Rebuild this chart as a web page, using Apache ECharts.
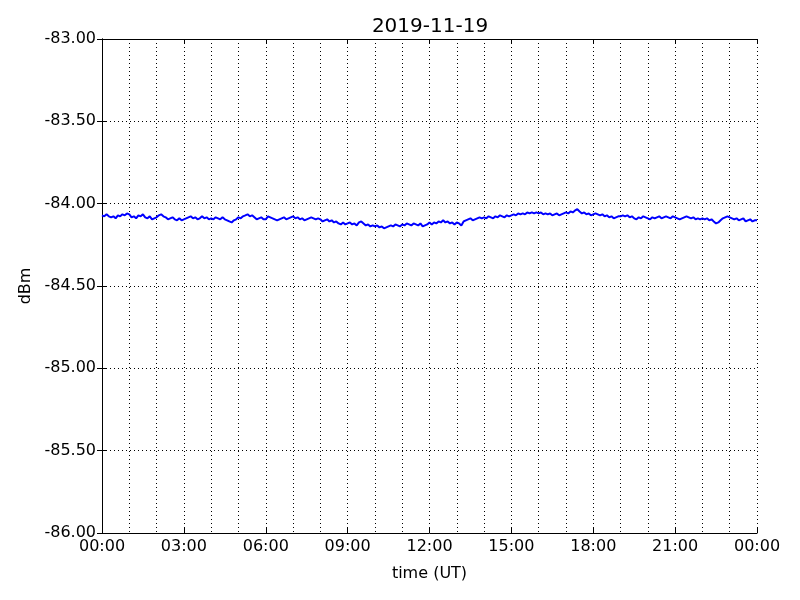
<!DOCTYPE html>
<html>
<head>
<meta charset="utf-8">
<script src="https://cdn.jsdelivr.net/npm/echarts@6/dist/echarts.min.js"></script>
<style>html,body{margin:0;padding:0;background:#fff}#c{width:800px;height:600px}</style>
</head>
<body>
<div id="c"></div>
<script>
// Signal level (dBm), one sample every 5 minutes from 00:00 to 24:00 UT
const stepMinutes = 5;
const values = [
  -84.071,-84.077,-84.065,-84.077,-84.083,-84.077,-84.089,-84.071,-84.077,-84.065,-84.071,-84.059,
  -84.065,-84.083,-84.077,-84.089,-84.071,-84.077,-84.065,-84.083,-84.089,-84.077,-84.095,-84.089,
  -84.083,-84.071,-84.065,-84.077,-84.083,-84.095,-84.089,-84.083,-84.095,-84.101,-84.089,-84.101,
  -84.095,-84.089,-84.083,-84.077,-84.089,-84.083,-84.095,-84.089,-84.077,-84.089,-84.083,-84.095,
  -84.089,-84.095,-84.083,-84.089,-84.095,-84.083,-84.095,-84.101,-84.108,-84.114,-84.101,-84.095,
  -84.083,-84.089,-84.077,-84.071,-84.065,-84.077,-84.071,-84.083,-84.095,-84.089,-84.083,-84.095,
  -84.095,-84.077,-84.083,-84.089,-84.095,-84.101,-84.095,-84.089,-84.083,-84.095,-84.089,-84.083,
  -84.077,-84.089,-84.083,-84.095,-84.089,-84.101,-84.095,-84.089,-84.083,-84.089,-84.095,-84.089,
  -84.095,-84.108,-84.101,-84.095,-84.108,-84.101,-84.114,-84.108,-84.120,-84.126,-84.114,-84.126,
  -84.120,-84.114,-84.126,-84.120,-84.132,-84.114,-84.108,-84.120,-84.132,-84.126,-84.138,-84.132,
  -84.138,-84.132,-84.144,-84.138,-84.150,-84.144,-84.138,-84.132,-84.138,-84.126,-84.132,-84.138,
  -84.126,-84.132,-84.120,-84.126,-84.132,-84.120,-84.126,-84.132,-84.120,-84.138,-84.132,-84.126,
  -84.114,-84.126,-84.114,-84.120,-84.108,-84.114,-84.101,-84.114,-84.108,-84.120,-84.114,-84.126,
  -84.114,-84.120,-84.132,-84.108,-84.101,-84.095,-84.089,-84.101,-84.095,-84.089,-84.083,-84.089,
  -84.083,-84.089,-84.077,-84.083,-84.089,-84.077,-84.083,-84.071,-84.077,-84.083,-84.071,-84.077,
  -84.071,-84.065,-84.071,-84.059,-84.065,-84.059,-84.065,-84.053,-84.059,-84.053,-84.059,-84.053,
  -84.059,-84.053,-84.065,-84.059,-84.065,-84.059,-84.071,-84.065,-84.059,-84.071,-84.065,-84.059,
  -84.053,-84.059,-84.047,-84.053,-84.041,-84.034,-84.047,-84.059,-84.053,-84.065,-84.059,-84.071,
  -84.065,-84.059,-84.065,-84.071,-84.065,-84.077,-84.071,-84.083,-84.077,-84.089,-84.083,-84.077,
  -84.077,-84.071,-84.077,-84.071,-84.083,-84.077,-84.089,-84.095,-84.083,-84.089,-84.077,-84.083,
  -84.089,-84.095,-84.083,-84.089,-84.083,-84.077,-84.089,-84.083,-84.077,-84.083,-84.089,-84.077,
  -84.083,-84.089,-84.095,-84.089,-84.083,-84.077,-84.083,-84.089,-84.083,-84.095,-84.089,-84.095,
  -84.089,-84.095,-84.089,-84.101,-84.095,-84.108,-84.120,-84.114,-84.101,-84.089,-84.083,-84.077,
  -84.083,-84.089,-84.095,-84.089,-84.101,-84.095,-84.089,-84.108,-84.101,-84.095,-84.108,-84.101,
  -84.101
];
const title = '2019-11-19';
const xTitle = 'time (UT)';
const yTitle = 'dBm';
const xMin = 0, xMax = 24, xStep = 3;
const yMin = -86, yMax = -83, yStep = 0.5;

const data = values.map((v, i) => [i * stepMinutes / 60, v]);
const pad = n => (n < 10 ? '0' : '') + n;
const font = 'DejaVu Sans';
const gridDash = {color: '#000', width: 1, type: [1, 3]};

const chart = echarts.init(document.getElementById('c'), null, {renderer: 'canvas'});
chart.setOption({
  animation: false,
  backgroundColor: '#fff',
  graphic: [{
    type: 'text', x: 430, y: 27, z: 10,
    style: {text: title, fontFamily: font, fontSize: 20, fill: '#000',
      textAlign: 'center', textVerticalAlign: 'middle'}
  }],
  grid: {left: 102, right: 43, top: 39, bottom: 67, containLabel: false},
  xAxis: [{
    type: 'value', min: xMin, max: xMax, interval: xStep, position: 'bottom',
    name: xTitle, nameLocation: 'middle', nameGap: 33,
    nameTextStyle: {fontFamily: font, fontSize: 16, color: '#000'},
    axisLine: {show: true, lineStyle: {color: '#000', width: 1}},
    axisTick: {show: true, inside: true, length: 5, lineStyle: {color: '#000'}},
    minorTick: {show: false, splitNumber: 3},
    axisLabel: {fontFamily: font, fontSize: 16, color: '#000', margin: 6,
      formatter: v => pad(Math.round(v) % 24) + ':00'},
    splitLine: {show: true, lineStyle: gridDash},
    minorSplitLine: {show: true, lineStyle: gridDash}
  }, {
    type: 'value', min: xMin, max: xMax, interval: xStep, position: 'top',
    axisLine: {show: true, lineStyle: {color: '#000', width: 1}},
    axisTick: {show: true, inside: true, length: 5, lineStyle: {color: '#000'}},
    axisLabel: {show: false}, splitLine: {show: false}
  }],
  yAxis: [{
    type: 'value', min: yMin, max: yMax, interval: yStep, position: 'left',
    name: yTitle, nameLocation: 'middle', nameGap: 66, nameRotate: 90,
    nameTextStyle: {fontFamily: font, fontSize: 16, color: '#000'},
    axisLine: {show: true, lineStyle: {color: '#000', width: 1}},
    axisTick: {show: true, inside: true, length: 5, lineStyle: {color: '#000'}},
    axisLabel: {fontFamily: font, fontSize: 16, color: '#000', margin: 6,
      formatter: v => v.toFixed(2)},
    splitLine: {show: true, lineStyle: gridDash}
  }, {
    type: 'value', min: yMin, max: yMax, interval: yStep, position: 'right',
    axisLine: {show: true, lineStyle: {color: '#000', width: 1}},
    axisTick: {show: true, inside: true, length: 5, lineStyle: {color: '#000'}},
    axisLabel: {show: false}, splitLine: {show: false}
  }],
  series: [{
    type: 'line', data: data, showSymbol: false, symbol: 'none',
    lineStyle: {color: '#0000ff', width: 2}, z: 5
  }]
});
</script>
</body>
</html>
